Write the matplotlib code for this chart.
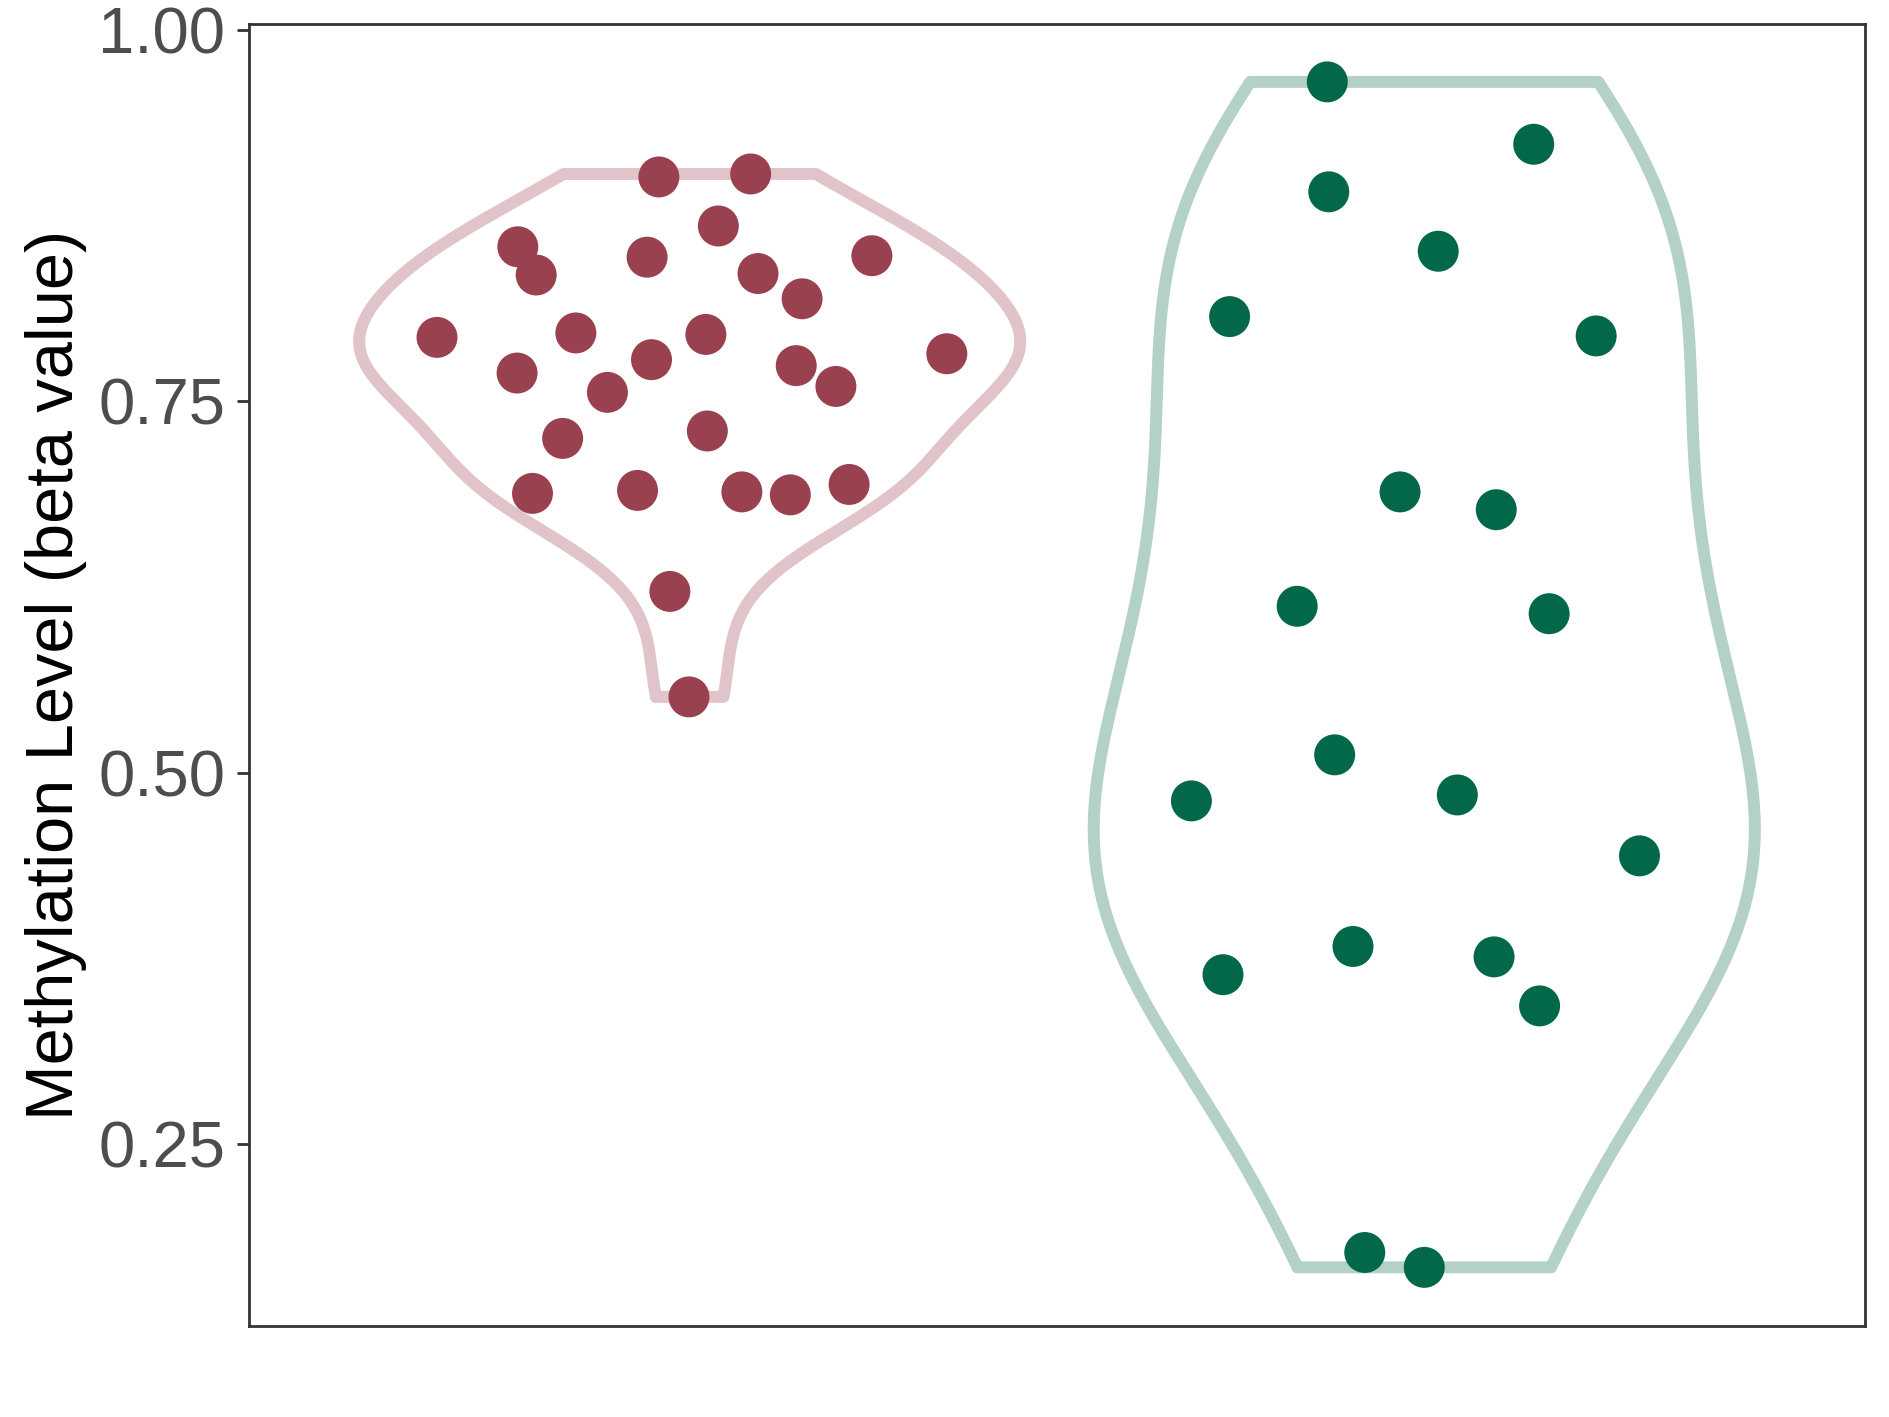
import numpy as np
import matplotlib
matplotlib.use("Agg")
import matplotlib.pyplot as plt

plt.rcParams['font.family'] = ['Liberation Sans', 'DejaVu Sans']

# ---- data ----
groups = ["Group A", "Group B"]
values_a = [0.793, 0.854, 0.835, 0.901, 0.903, 0.868, 0.847, 0.848, 0.836, 0.819,
            0.796, 0.795, 0.782, 0.778, 0.774, 0.769, 0.756, 0.760, 0.725, 0.730,
            0.688, 0.690, 0.689, 0.687, 0.694, 0.622, 0.551]
jitter_a = [-0.344, -0.234, -0.209, -0.042, 0.083, 0.039, -0.058, 0.248, 0.093, 0.153,
            -0.155, 0.022, 0.350, -0.052, 0.145, -0.235, -0.112, 0.199, -0.173, 0.024,
            -0.214, -0.071, 0.071, 0.137, 0.217, -0.027, -0.001]
values_b = [0.965, 0.923, 0.891, 0.851, 0.807, 0.794, 0.689, 0.677, 0.612, 0.607,
            0.512, 0.481, 0.485, 0.444, 0.364, 0.383, 0.376, 0.343, 0.177, 0.167]
jitter_b = [-0.132, 0.149, -0.130, 0.019, -0.265, 0.234, -0.033, 0.098, -0.173, 0.170,
            -0.122, -0.317, 0.045, 0.293, -0.274, -0.097, 0.095, 0.157, -0.081, 0.000]
yticks = [0.25, 0.50, 0.75, 1.00]
ytick_labels = ["0.25", "0.50", "0.75", "1.00"]

dot_colors = ["#9A4150", "#03684A"]
line_colors = ["#E0C4CA", "#B3D1C6"]


def nrd0(x):
    x = np.asarray(x)
    hi = np.std(x, ddof=1)
    q75, q25 = np.percentile(x, [75, 25])
    lo = min(hi, (q75 - q25) / 1.34)
    return 0.9 * lo * len(x) ** (-0.2)


def violin_outline(vals, pos, width=0.9):
    vals = np.asarray(vals)
    bw = nrd0(vals)
    ys = np.linspace(vals.min(), vals.max(), 512)
    dens = np.exp(-0.5 * ((ys[:, None] - vals[None, :]) / bw) ** 2).sum(axis=1)
    w = dens / dens.max() * width / 2
    xs = np.concatenate([pos - w, (pos + w)[::-1], [pos - w[0]]])
    yy = np.concatenate([ys, ys[::-1], [ys[0]]])
    return xs, yy


fig = plt.figure(figsize=(18.89, 14.17), dpi=100)
ax = fig.add_axes([0.1318, 0.0642, 0.8555, 0.9189])

for i, (vals, jit) in enumerate([(values_a, jitter_a), (values_b, jitter_b)]):
    pos = i + 1
    xs, yy = violin_outline(vals, pos)
    ax.plot(xs, yy, color=line_colors[i], lw=8.6, solid_joinstyle='round',
            solid_capstyle='round', zorder=2)
    ax.scatter(pos + np.asarray(jit), vals, s=870, color=dot_colors[i],
               edgecolors='none', zorder=3)

ax.set_xlim(0.4, 2.6)
ax.set_ylim(0.1275, 1.004)
ax.set_xticks([])
ax.set_yticks(yticks)
ax.set_yticklabels(ytick_labels)
ax.tick_params(axis='y', length=9, width=2, color='#333333', labelsize=47,
               labelcolor='#4D4D4D', pad=8)
for sp in ax.spines.values():
    sp.set_color('#333333')
    sp.set_linewidth(2)

fig.text(73 / 1889, 1 - 675 / 1417, "Methylation Level (beta value)", fontsize=48,
         color='black', rotation=90, rotation_mode='anchor', ha='center', va='baseline')

fig.savefig("out.png", dpi=100, facecolor='white')
